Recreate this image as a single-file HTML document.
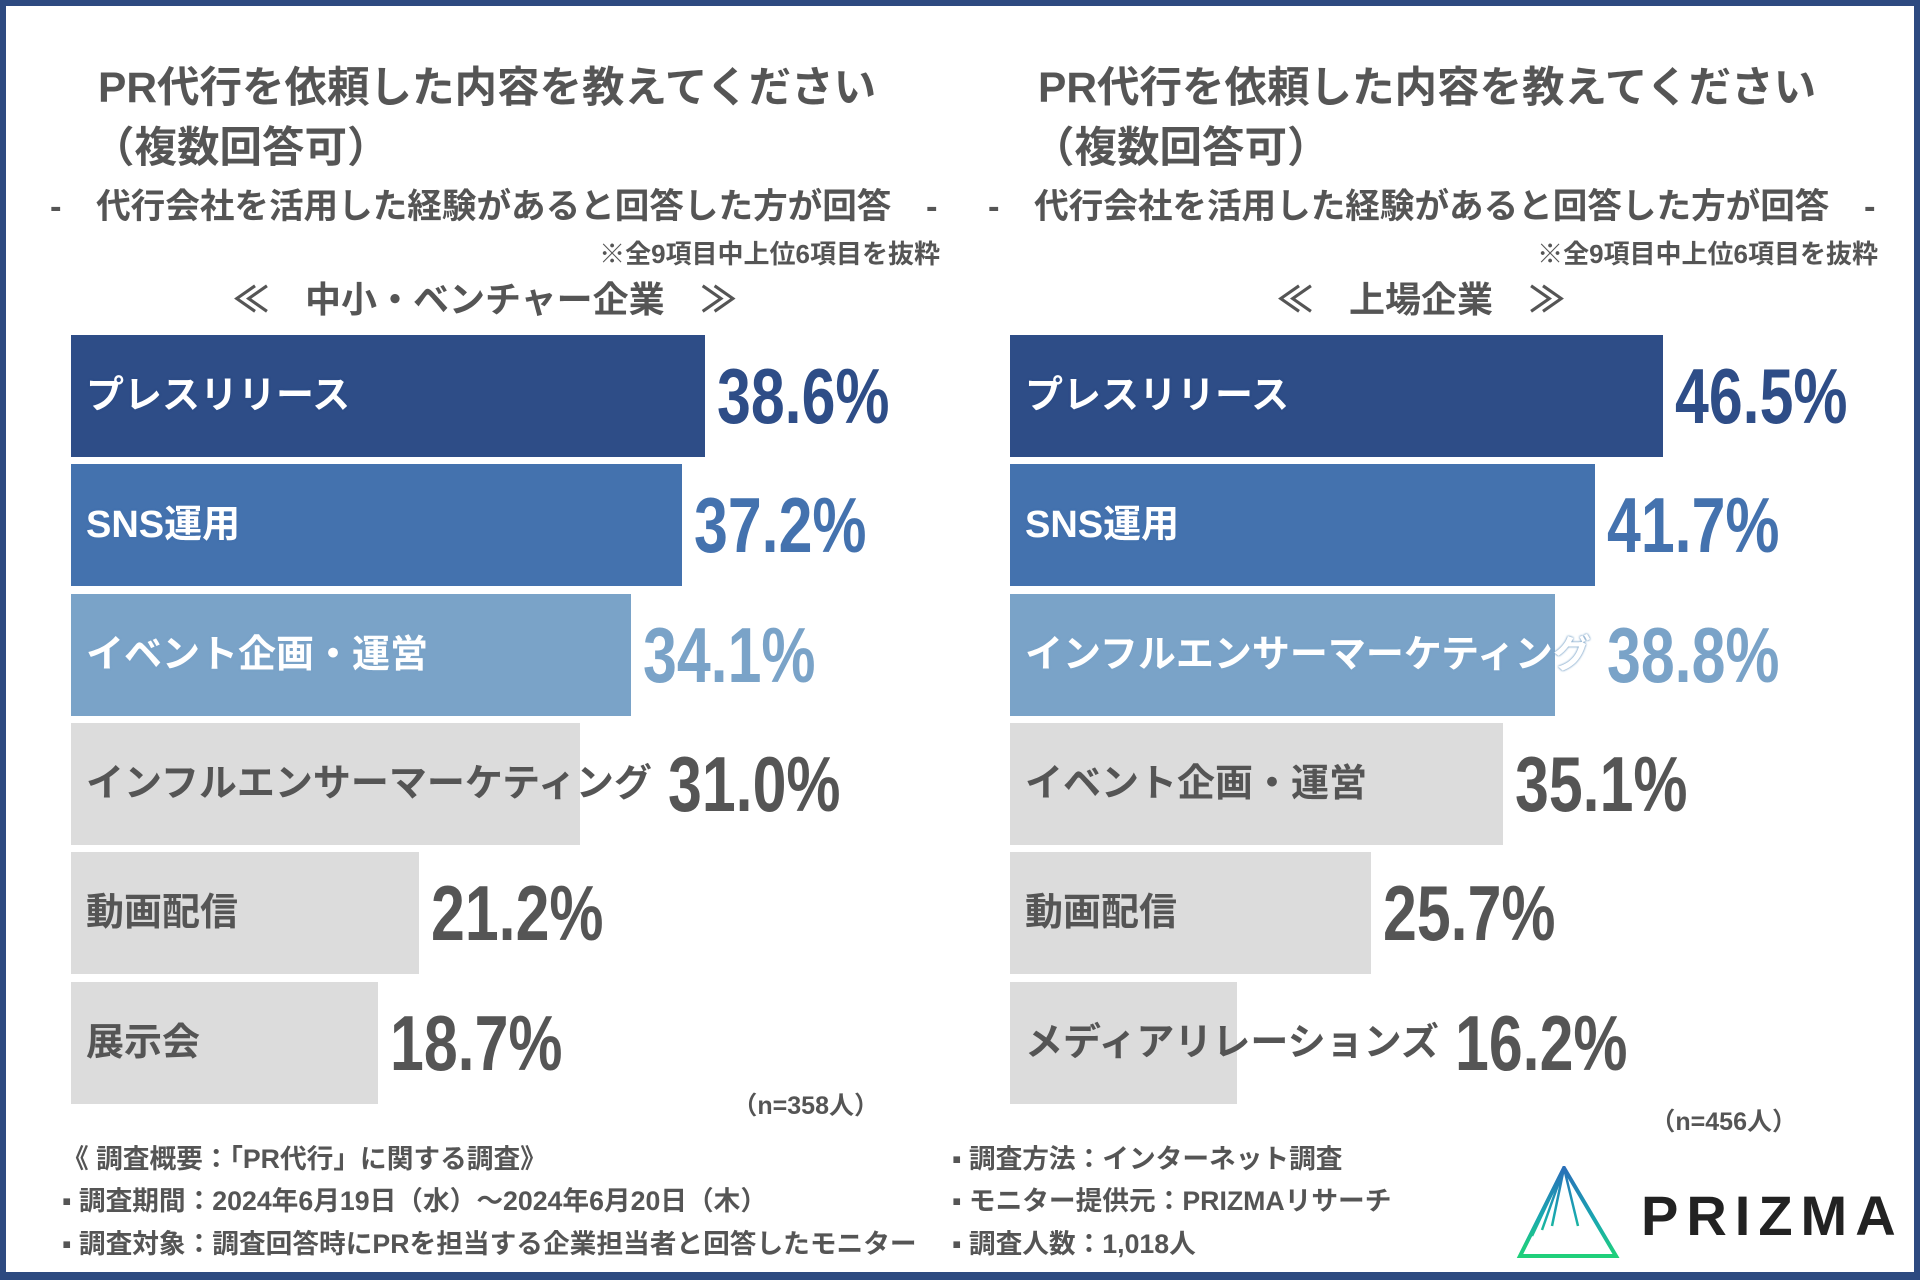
<!DOCTYPE html>
<html><head><meta charset="utf-8">
<style>
*{margin:0;padding:0;box-sizing:border-box}
body{width:1920px;height:1280px;overflow:hidden;background:#fff;position:relative;font-family:"Liberation Sans","Noto Sans CJK JP",sans-serif;font-weight:bold;color:#555}
#frame{position:absolute;left:0;top:0;width:1920px;height:1280px;border:6px solid #2d4a80;border-bottom-width:8px;pointer-events:none}
.t{position:absolute;white-space:nowrap;line-height:1}
.bar{position:absolute}
.lbl{position:absolute;white-space:nowrap;font-size:38px;line-height:1;transform:translateY(-50%)}
.val{position:absolute;white-space:nowrap;font-family:"Liberation Sans",sans-serif;font-size:78px;line-height:1;transform-origin:0 50%;transform:translateY(-50%) scaleX(0.78)}
</style></head><body>
<div id="frame"></div>

<div class="t" style="left:98px;top:68px;font-size:42.5px">PR代行を依頼した内容を教えてください</div>
<div class="t" style="left:92px;top:128px;font-size:42.5px">（複数回答可）</div>
<div class="t" style="left:50px;top:190px;font-size:34.6px">-　代行会社を活用した経験があると回答した方が回答　-</div>
<div class="t" style="right:980px;top:241px;font-size:26px">※全9項目中上位6項目を抜粋</div>
<div class="t" style="left:233px;top:282px;font-size:36px">≪　中小・ベンチャー企業　≫</div>

<div class="t" style="left:1038px;top:68px;font-size:42.5px">PR代行を依頼した内容を教えてください</div>
<div class="t" style="left:1032px;top:128px;font-size:42.5px">（複数回答可）</div>
<div class="t" style="left:988px;top:190px;font-size:34.6px">-　代行会社を活用した経験があると回答した方が回答　-</div>
<div class="t" style="right:42px;top:241px;font-size:26px">※全9項目中上位6項目を抜粋</div>
<div class="t" style="left:1277px;top:282px;font-size:36px">≪　上場企業　≫</div>

<div class="t" style="right:1041px;top:1094px;font-size:25px">（n=358人）</div>
<div class="t" style="right:123px;top:1110px;font-size:25px">（n=456人）</div>

<div class="t" style="left:62px;top:1146px;font-size:26.7px">《 調査概要：「PR代行」に関する調査》</div>
<div class="t" style="left:62px;top:1188px;font-size:26.7px">▪ 調査期間：2024年6月19日（水）～2024年6月20日（木）</div>
<div class="t" style="left:62px;top:1231px;font-size:26.7px">▪ 調査対象：調査回答時にPRを担当する企業担当者と回答したモニター</div>
<div class="t" style="left:952px;top:1146px;font-size:26.7px">▪ 調査方法：インターネット調査</div>
<div class="t" style="left:952px;top:1188px;font-size:26.7px">▪ モニター提供元：PRIZMAリサーチ</div>
<div class="t" style="left:952px;top:1231px;font-size:26.7px">▪ 調査人数：1,018人</div>

<svg style="position:absolute;left:1516px;top:1166px" width="106" height="94" viewBox="0 0 106 94">
<defs><linearGradient id="g" x1="0" y1="0" x2="0" y2="1"><stop offset="0" stop-color="#2a6fb8"/><stop offset="0.6" stop-color="#19a8b0"/><stop offset="1" stop-color="#1fd07a"/></linearGradient></defs>
<polygon points="48,2 4,90 100,90" fill="none" stroke="url(#g)" stroke-width="4"/>
<path d="M48,2 L8,82 M48,2 L16,70 M48,2 L26,64 M48,2 L36,60 M48,2 L62,60" stroke="url(#g)" stroke-width="2.5" fill="none"/>
</svg>
<div class="t" style="left:1641px;top:1188px;font-size:56px;color:#222;letter-spacing:8px;font-family:'Liberation Sans',sans-serif;font-weight:bold">PRIZMA</div>

<div id="chart"></div>
<script>
const leftCats=["プレスリリース","SNS運用","イベント企画・運営","インフルエンサーマーケティング","動画配信","展示会"];
const leftVals=[38.6,37.2,34.1,31.0,21.2,18.7];
const rightCats=["プレスリリース","SNS運用","インフルエンサーマーケティング","イベント企画・運営","動画配信","メディアリレーションズ"];
const rightVals=[46.5,41.7,38.8,35.1,25.7,16.2];
const barColors=["#2e4d87","#4472ae","#7aa3c8","#dcdcdc","#dcdcdc","#dcdcdc"];
const valColors=["#2e4d87","#4472ae","#7aa3c8","#555555","#555555","#555555"];
const labelColors=["#fff","#fff","#fff","#555","#555","#555"];
const root=document.getElementById('chart');
function drawPanel(side,x0,scale,cats,vals){
  const top=335,pitch=129.3,h=122;
  const xs=v=>v*scale;
  const ys=i=>top+i*pitch;
  cats.forEach((c,i)=>{
    const w=xs(vals[i]);
    const b=document.createElement('div');
    b.className='bar';
    
    
    b.style.cssText=`left:${x0}px;top:${ys(i)}px;width:${w}px;height:${h}px;background:${barColors[i]}`;
    root.appendChild(b);
    const l=document.createElement('div');
    l.className='lbl';
    
    
    const sh=i<3?`;text-shadow:0 0 2px ${barColors[i]},0 0 2px ${barColors[i]}`:'';
    l.style.cssText=`left:${x0+15}px;top:${ys(i)+h/2}px;color:${labelColors[i]}${sh}`;
    l.textContent=c;
    root.appendChild(l);
    const labelRight=x0+15+l.offsetWidth;
    const barRight=x0+w;
    const vx=labelRight+8>barRight?labelRight+16:barRight+12;
    const v=document.createElement('div');
    v.className='val';
    
    
    v.style.cssText=`left:${vx}px;top:${ys(i)+h/2}px;color:${valColors[i]}`;
    v.textContent=vals[i].toFixed(1)+'%';
    root.appendChild(v);
  });
}
drawPanel('left',71,16.43,leftCats,leftVals);
drawPanel('right',1010,14.04,rightCats,rightVals);
</script>
</body></html>
